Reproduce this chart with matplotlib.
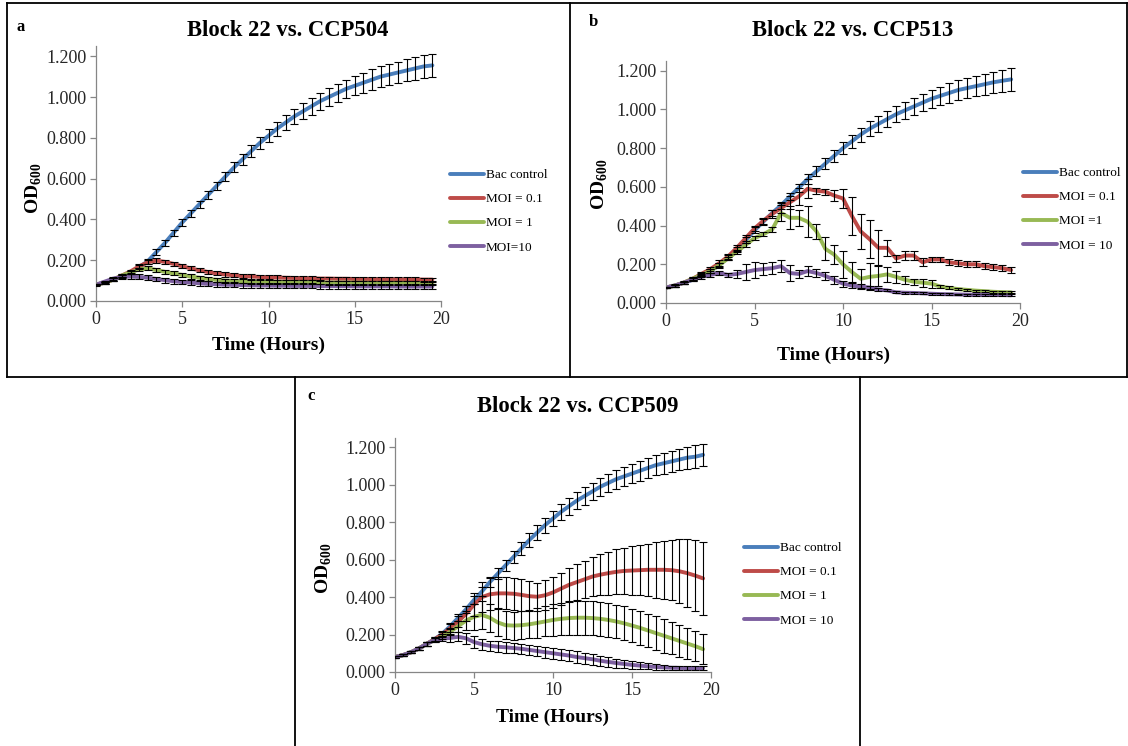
import matplotlib
matplotlib.use("Agg")
import matplotlib.pyplot as plt
from matplotlib.lines import Line2D

plt.rcParams['font.family'] = ['Liberation Serif', 'DejaVu Serif']
plt.rcParams['mathtext.fontset'] = 'custom'
plt.rcParams['mathtext.rm'] = 'Liberation Serif'
plt.rcParams['mathtext.bf'] = 'Liberation Serif:bold'

hours = [0.0, 0.5, 1.0, 1.5, 2.0, 2.5, 3.0, 3.5, 4.0, 4.5, 5.0, 5.5, 6.0, 6.5, 7.0, 7.5,
         8.0, 8.5, 9.0, 9.5, 10.0, 10.5, 11.0, 11.5, 12.0, 12.5, 13.0, 13.5, 14.0, 14.5,
         15.0, 15.5, 16.0, 16.5, 17.0, 17.5, 18.0, 18.5, 19.0, 19.5]

x_ticks = [0, 5, 10, 15, 20]
y_ticks = [0.0, 0.2, 0.4, 0.6, 0.8, 1.0, 1.2]

# ---------------- panel a: Block 22 vs. CCP504 ----------------
a_bac = [0.080, 0.090, 0.105, 0.120, 0.140, 0.165, 0.195, 0.240, 0.285, 0.335, 0.385, 0.430, 0.475,
         0.520, 0.565, 0.610, 0.655, 0.695, 0.735, 0.775, 0.810, 0.845, 0.875, 0.905, 0.930, 0.955,
         0.980, 1.000, 1.020, 1.040, 1.055, 1.070, 1.085, 1.100, 1.110, 1.120, 1.130, 1.140, 1.150, 1.155]
a_bac_err = [0.005, 0.005, 0.006, 0.007, 0.008, 0.010, 0.012, 0.013, 0.014, 0.015, 0.015, 0.016, 0.017,
             0.018, 0.020, 0.022, 0.024, 0.026, 0.028, 0.030, 0.032, 0.034, 0.036, 0.038, 0.040, 0.041,
             0.042, 0.043, 0.044, 0.045, 0.046, 0.048, 0.050, 0.051, 0.052, 0.053, 0.054, 0.055, 0.056, 0.058]
a_m01 = [0.080, 0.090, 0.105, 0.125, 0.145, 0.170, 0.190, 0.198, 0.192, 0.182, 0.170, 0.160, 0.150,
         0.142, 0.135, 0.130, 0.126, 0.122, 0.120, 0.118, 0.116, 0.115, 0.114, 0.113, 0.112, 0.111,
         0.110, 0.110, 0.109, 0.109, 0.108, 0.108, 0.107, 0.107, 0.107, 0.106, 0.106, 0.106, 0.105, 0.105]
a_m01_err = [0.004, 0.005, 0.006, 0.007, 0.008, 0.010, 0.011, 0.011, 0.011, 0.011, 0.010, 0.010, 0.010,
             0.010, 0.010, 0.010, 0.010, 0.010, 0.010, 0.010, 0.010, 0.010, 0.010, 0.010, 0.010, 0.010,
             0.010, 0.010, 0.010, 0.010, 0.010, 0.010, 0.010, 0.010, 0.010, 0.010, 0.010, 0.010, 0.010, 0.010]
a_m1 = [0.080, 0.090, 0.105, 0.125, 0.140, 0.155, 0.160, 0.152, 0.143, 0.135, 0.128, 0.120, 0.114,
        0.108, 0.104, 0.100, 0.098, 0.096, 0.095, 0.094, 0.093, 0.093, 0.092, 0.092, 0.091, 0.091,
        0.091, 0.090, 0.090, 0.090, 0.090, 0.090, 0.089, 0.089, 0.089, 0.089, 0.089, 0.088, 0.088, 0.088]
a_m1_err = [0.004, 0.005, 0.006, 0.007, 0.008, 0.009, 0.010, 0.010, 0.010, 0.010, 0.010, 0.010, 0.010,
            0.010, 0.010, 0.010, 0.010, 0.010, 0.010, 0.010, 0.010, 0.010, 0.010, 0.010, 0.010, 0.010,
            0.010, 0.010, 0.010, 0.010, 0.010, 0.010, 0.010, 0.010, 0.010, 0.010, 0.010, 0.010, 0.010, 0.010]
a_m10 = [0.080, 0.095, 0.110, 0.118, 0.120, 0.118, 0.114, 0.108, 0.102, 0.097, 0.093, 0.090, 0.087,
         0.084, 0.082, 0.080, 0.079, 0.078, 0.077, 0.076, 0.076, 0.075, 0.075, 0.074, 0.074, 0.074,
         0.073, 0.073, 0.073, 0.073, 0.072, 0.072, 0.072, 0.072, 0.072, 0.071, 0.071, 0.071, 0.071, 0.071]
a_m10_err = [0.004, 0.005, 0.006, 0.008, 0.010, 0.012, 0.012, 0.012, 0.012, 0.012, 0.012, 0.012, 0.012,
             0.012, 0.012, 0.012, 0.012, 0.012, 0.012, 0.012, 0.012, 0.012, 0.012, 0.012, 0.012, 0.012,
             0.012, 0.012, 0.012, 0.012, 0.012, 0.012, 0.012, 0.012, 0.012, 0.012, 0.012, 0.012, 0.012, 0.012]

# ---------------- panel b: Block 22 vs. CCP513 ----------------
b_bac = [0.080, 0.090, 0.105, 0.120, 0.140, 0.165, 0.195, 0.235, 0.275, 0.325, 0.375, 0.420, 0.465,
         0.505, 0.550, 0.595, 0.640, 0.680, 0.720, 0.760, 0.800, 0.835, 0.870, 0.900, 0.925, 0.950,
         0.975, 0.995, 1.015, 1.035, 1.055, 1.070, 1.085, 1.100, 1.110, 1.120, 1.130, 1.140, 1.148, 1.155]
b_bac_err = [0.005, 0.005, 0.006, 0.007, 0.008, 0.010, 0.012, 0.013, 0.014, 0.015, 0.015, 0.016, 0.017,
             0.018, 0.020, 0.022, 0.024, 0.026, 0.028, 0.030, 0.032, 0.034, 0.036, 0.038, 0.040, 0.041,
             0.042, 0.043, 0.044, 0.045, 0.046, 0.048, 0.050, 0.051, 0.052, 0.053, 0.054, 0.055, 0.056, 0.058]
b_m01 = [0.080, 0.090, 0.105, 0.125, 0.150, 0.175, 0.205, 0.240, 0.285, 0.335, 0.385, 0.425, 0.460,
         0.490, 0.520, 0.550, 0.590, 0.580, 0.575, 0.555, 0.540, 0.450, 0.370, 0.330, 0.285, 0.285,
         0.230, 0.245, 0.245, 0.210, 0.225, 0.225, 0.210, 0.205, 0.200, 0.200, 0.190, 0.185, 0.180, 0.170]
b_m01_err = [0.005, 0.006, 0.007, 0.008, 0.010, 0.012, 0.015, 0.015, 0.015, 0.015, 0.015, 0.015, 0.020,
             0.025, 0.035, 0.045, 0.050, 0.015, 0.015, 0.030, 0.050, 0.100, 0.090, 0.100, 0.090, 0.040,
             0.020, 0.025, 0.025, 0.020, 0.015, 0.015, 0.015, 0.015, 0.015, 0.015, 0.015, 0.015, 0.015, 0.015]
b_m1 = [0.080, 0.090, 0.105, 0.125, 0.145, 0.165, 0.195, 0.230, 0.265, 0.300, 0.335, 0.355, 0.380,
        0.465, 0.440, 0.440, 0.420, 0.370, 0.280, 0.250, 0.200, 0.160, 0.125, 0.135, 0.140, 0.148,
        0.135, 0.120, 0.110, 0.105, 0.100, 0.085, 0.078, 0.072, 0.068, 0.064, 0.061, 0.058, 0.056, 0.055]
b_m1_err = [0.005, 0.005, 0.006, 0.007, 0.008, 0.010, 0.010, 0.010, 0.010, 0.010, 0.010, 0.010, 0.015,
            0.040, 0.060, 0.040, 0.080, 0.040, 0.060, 0.050, 0.070, 0.050, 0.050, 0.070, 0.050, 0.040,
            0.030, 0.020, 0.015, 0.020, 0.020, 0.010, 0.008, 0.006, 0.005, 0.005, 0.005, 0.005, 0.005, 0.005]
b_m10 = [0.080, 0.090, 0.105, 0.120, 0.135, 0.145, 0.155, 0.145, 0.150, 0.160, 0.170, 0.175, 0.180,
         0.190, 0.155, 0.150, 0.165, 0.155, 0.140, 0.120, 0.100, 0.090, 0.085, 0.080, 0.070, 0.065,
         0.055, 0.053, 0.052, 0.050, 0.048, 0.046, 0.045, 0.044, 0.043, 0.042, 0.042, 0.041, 0.041, 0.040]
b_m10_err = [0.005, 0.005, 0.006, 0.007, 0.010, 0.010, 0.010, 0.010, 0.020, 0.040, 0.040, 0.030, 0.030,
             0.030, 0.040, 0.020, 0.025, 0.020, 0.020, 0.020, 0.015, 0.015, 0.015, 0.010, 0.010, 0.005,
             0.005, 0.005, 0.005, 0.005, 0.005, 0.005, 0.005, 0.005, 0.005, 0.005, 0.005, 0.005, 0.005, 0.005]

# ---------------- panel c: Block 22 vs. CCP509 ----------------
c_bac = [0.080, 0.090, 0.105, 0.125, 0.150, 0.175, 0.205, 0.245, 0.290, 0.335, 0.385, 0.430, 0.480,
         0.525, 0.570, 0.615, 0.660, 0.705, 0.745, 0.785, 0.820, 0.855, 0.885, 0.915, 0.940, 0.965,
         0.990, 1.010, 1.030, 1.045, 1.060, 1.075, 1.090, 1.105, 1.115, 1.125, 1.135, 1.145, 1.150, 1.160]
c_bac_err = [0.005, 0.005, 0.006, 0.008, 0.010, 0.012, 0.014, 0.016, 0.018, 0.020, 0.022, 0.024, 0.026,
             0.028, 0.030, 0.032, 0.034, 0.036, 0.038, 0.040, 0.042, 0.043, 0.044, 0.045, 0.046, 0.047,
             0.048, 0.049, 0.050, 0.051, 0.052, 0.053, 0.054, 0.055, 0.056, 0.057, 0.058, 0.059, 0.060, 0.060]
c_m01 = [0.080, 0.090, 0.105, 0.125, 0.150, 0.175, 0.200, 0.235, 0.270, 0.310, 0.360, 0.400, 0.415,
         0.420, 0.420, 0.418, 0.412, 0.405, 0.402, 0.410, 0.425, 0.445, 0.465, 0.480, 0.495, 0.510,
         0.520, 0.528, 0.535, 0.540, 0.542, 0.544, 0.546, 0.546, 0.546, 0.544, 0.538, 0.528, 0.515, 0.500]
c_m01_err = [0.005, 0.005, 0.006, 0.008, 0.010, 0.012, 0.015, 0.020, 0.030, 0.040, 0.060, 0.080, 0.085,
             0.085, 0.085, 0.085, 0.085, 0.080, 0.075, 0.080, 0.085, 0.085, 0.090, 0.095, 0.100, 0.105,
             0.110, 0.115, 0.120, 0.125, 0.130, 0.135, 0.140, 0.150, 0.155, 0.160, 0.170, 0.180, 0.190, 0.195]
c_m1 = [0.080, 0.090, 0.105, 0.125, 0.150, 0.170, 0.190, 0.215, 0.245, 0.275, 0.295, 0.305, 0.290,
        0.265, 0.250, 0.248, 0.250, 0.255, 0.262, 0.270, 0.278, 0.284, 0.288, 0.290, 0.290, 0.288,
        0.284, 0.278, 0.270, 0.260, 0.248, 0.236, 0.222, 0.208, 0.194, 0.180, 0.166, 0.152, 0.138, 0.122]
c_m1_err = [0.005, 0.005, 0.006, 0.008, 0.010, 0.012, 0.015, 0.020, 0.030, 0.050, 0.070, 0.075, 0.075,
            0.075, 0.075, 0.075, 0.075, 0.075, 0.080, 0.080, 0.085, 0.085, 0.090, 0.090, 0.090, 0.090,
            0.090, 0.090, 0.090, 0.090, 0.090, 0.090, 0.090, 0.090, 0.090, 0.085, 0.085, 0.085, 0.080, 0.080]
c_m10 = [0.080, 0.090, 0.105, 0.125, 0.150, 0.170, 0.178, 0.182, 0.188, 0.180, 0.160, 0.148, 0.140,
         0.135, 0.132, 0.128, 0.124, 0.118, 0.112, 0.106, 0.100, 0.094, 0.088, 0.080, 0.074, 0.068,
         0.060, 0.054, 0.048, 0.043, 0.038, 0.034, 0.030, 0.027, 0.025, 0.023, 0.022, 0.021, 0.020, 0.020]
c_m10_err = [0.005, 0.005, 0.006, 0.008, 0.010, 0.012, 0.015, 0.020, 0.025, 0.028, 0.030, 0.030, 0.028,
             0.028, 0.028, 0.028, 0.028, 0.028, 0.028, 0.030, 0.030, 0.030, 0.030, 0.030, 0.030, 0.028,
             0.028, 0.026, 0.024, 0.022, 0.020, 0.018, 0.016, 0.014, 0.012, 0.010, 0.010, 0.010, 0.010, 0.010]

titles = ["Block 22 vs. CCP504", "Block 22 vs. CCP513", "Block 22 vs. CCP509"]
panel_letters = ["a", "b", "c"]
legend_labels = [
    ["Bac control", "MOI = 0.1", "MOI = 1", "MOI=10"],
    ["Bac control", "MOI = 0.1", "MOI =1", "MOI = 10"],
    ["Bac control", "MOI = 0.1", "MOI = 1", "MOI = 10"],
]
series_colors = ["#4A7EBB", "#BE4B48", "#98B954", "#7D60A0"]

panels_data = [
    [(a_bac, a_bac_err), (a_m01, a_m01_err), (a_m1, a_m1_err), (a_m10, a_m10_err)],
    [(b_bac, b_bac_err), (b_m01, b_m01_err), (b_m1, b_m1_err), (b_m10, b_m10_err)],
    [(c_bac, c_bac_err), (c_m01, c_m01_err), (c_m1, c_m1_err), (c_m10, c_m10_err)],
]

W, H = 1128, 746
fig = plt.figure(figsize=(W / 100, H / 100), dpi=100)
fig.patch.set_facecolor("white")


def fx(x):
    return x / W


def fy(y):
    return 1 - y / H


layouts = [
    dict(ax=(96, 441, 301, 46), title=(288, 31), letter=(21, 27), xlab=(269, 345), ylab=(34, 188),
         leg=(450, 169)),
    dict(ax=(666, 1020, 303, 61), title=(853, 31), letter=(593, 22), xlab=(833, 355), ylab=(600, 184),
         leg=(1023, 167)),
    dict(ax=(395, 711, 672, 438), title=(578, 407), letter=(311, 396), xlab=(553, 717), ylab=(324, 568),
         leg=(744, 542)),
]

border_kw = dict(color="black", lw=1.3, transform=fig.transFigure)
segs = [
    ((7, 3), (1127, 3)), ((7, 3), (7, 377)), ((570, 3), (570, 377)), ((1127, 3), (1127, 377)),
    ((7, 377), (1127, 377)), ((295, 377), (295, 746)), ((860, 377), (860, 746)),
]
for (x0, y0), (x1, y1) in segs:
    fig.add_artist(Line2D([fx(x0), fx(x1)], [fy(y0), fy(y1)], **border_kw))

for i, lay in enumerate(layouts):
    xl, xr, yz, yt = lay["ax"]
    ax = fig.add_axes([fx(xl), fy(yz), (xr - xl) / W, (yz - yt) / H])
    ax.set_xlim(0, 20)
    ax.set_ylim(0, 1.25)
    handles = []
    for j, (vals, errs) in enumerate(panels_data[i]):
        h, = ax.plot(hours, vals, color=series_colors[j], lw=2.8, solid_capstyle="round",
                     solid_joinstyle="round", zorder=2)
        handles.append(h)
    for j, (vals, errs) in enumerate(panels_data[i]):
        ax.errorbar(hours, vals, yerr=errs, fmt="none", ecolor="black", elinewidth=0.8,
                    capsize=2.6, capthick=0.8, zorder=3)
    ax.set_xticks(x_ticks)
    ax.set_yticks(y_ticks)
    ax.set_yticklabels([f"{v:.3f}" for v in y_ticks])
    for s in ["top", "right"]:
        ax.spines[s].set_visible(False)
    for s in ["left", "bottom"]:
        ax.spines[s].set_color("#868686")
        ax.spines[s].set_linewidth(0.9)
    ax.tick_params(direction="out", length=4, width=0.9, color="#868686", labelsize=13,
                   labelcolor="#262626", pad=3)
    ax.patch.set_alpha(0)

    fig.text(fx(lay["title"][0]), fy(lay["title"][1]), titles[i], ha="center", va="center",
             fontsize=16.3, fontweight="bold")
    fig.text(fx(lay["letter"][0]), fy(lay["letter"][1]), panel_letters[i], ha="center", va="center",
             fontsize=12, fontweight="bold")
    fig.text(fx(lay["xlab"][0]), fy(lay["xlab"][1]), "Time (Hours)", ha="center", va="center",
             fontsize=14, fontweight="bold")
    fig.text(fx(lay["ylab"][0]), fy(lay["ylab"][1]), r"$\mathbf{OD}_{\mathbf{600}}$", ha="center",
             va="center", fontsize=14, rotation=90)
    ax.legend(handles, legend_labels[i], loc="upper left",
              bbox_to_anchor=(fx(lay["leg"][0]), fy(lay["leg"][1])), bbox_transform=fig.transFigure,
              frameon=False, fontsize=9.5, handlelength=2.6, handletextpad=0.1, labelspacing=0.9,
              borderpad=0, borderaxespad=0)

fig.savefig("out.png", dpi=100, facecolor="white")
